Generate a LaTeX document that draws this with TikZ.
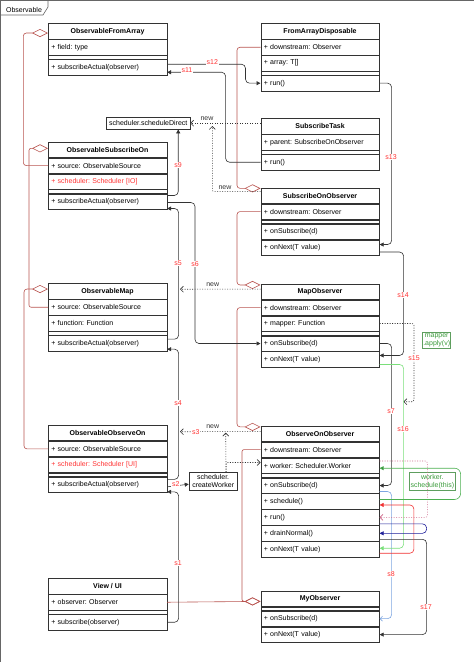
\documentclass[tikz,border=0pt]{standalone}
\usepackage{fontspec}
\setmainfont{Liberation Sans}
\usetikzlibrary{arrows.meta,calc}
\definecolor{boxc}{HTML}{333333}
\definecolor{aggc}{HTML}{B85450}
\definecolor{lblred}{HTML}{FF3333}
\definecolor{ltgreen}{HTML}{7ADF7A}
\definecolor{dkgreen}{HTML}{4CAF50}
\definecolor{gtext}{HTML}{3A9A3A}
\definecolor{gborder}{HTML}{5E9E5E}
\definecolor{ltblue}{HTML}{7EA6E0}
\definecolor{navyc}{HTML}{1F1F99}
\definecolor{loopred}{HTML}{F03030}
\definecolor{pinkc}{HTML}{CC6688}
\definecolor{framec}{HTML}{666666}
\tikzset{
  hdr/.style={draw=boxc, line width=0.6pt, anchor=north west, minimum width=118.5pt, minimum height=15.33pt, inner sep=0pt, font=\fontsize{7pt}{8pt}\selectfont\bfseries},
  row/.style={draw=boxc, line width=0.6pt, anchor=north west, minimum width=118.5pt, minimum height=15.33pt, inner xsep=3pt, inner ysep=0pt, text width=112.5pt, align=left},
  redrow/.style={row, text=lblred},
  sepbox/.style={draw=boxc, line width=0.6pt, anchor=north west, minimum width=118.5pt, minimum height=3.5pt, inner sep=0pt},
  notebox/.style={draw=boxc, line width=0.6pt, inner sep=0.6pt, align=center},
  gbox/.style={draw=gborder, line width=0.6pt, text=gtext, inner sep=0.6pt, align=center},
  flow/.style={draw=boxc, line width=0.6pt, rounded corners=4pt, -{Triangle[length=4pt,width=4pt]}},
  redflow/.style={flow, draw=loopred, -{Triangle[length=4pt,width=4pt,fill=loopred]}},
  navyflow/.style={flow, draw=navyc, -{Triangle[length=4pt,width=4pt,fill=navyc]}},
  ltgflow/.style={flow, draw=ltgreen, -{Triangle[length=4pt,width=4pt,fill=ltgreen]}},
  dkgflow/.style={flow, rounded corners=6pt, draw=dkgreen, -{Triangle[length=4pt,width=4pt,fill=dkgreen!80!black]}},
  blueflow/.style={flow, draw=ltblue, -{Straight Barb[length=2.5pt,width=5pt]}},
  newd/.style={draw=boxc, line width=0.6pt, dash pattern=on 1pt off 1.5pt, rounded corners=2pt, -{Straight Barb[length=3pt,width=6pt]}},
  pinkd/.style={newd, draw=pinkc},
  agg/.style={draw=aggc, line width=0.6pt, rounded corners=3pt, -{Diamond[open,length=16pt,width=8pt]}},
  aggs/.style={agg, rounded corners=2pt},
  lbl/.style={text=lblred, fill=white, inner sep=0.6pt},
  newl/.style={text=boxc, inner sep=0.5pt},
}
\begin{document}
\frenchspacing
\begin{tikzpicture}[x=1pt,y=-1pt, font=\fontsize{7pt}{8pt}\selectfont]
\useasboundingbox (0,0) rectangle (474,662);
% frame
\draw[framec, line width=0.8pt] (0,0) rectangle (474,662);
\draw[framec, line width=0.6pt] (0,15) -- (43,15) -- (48,7) -- (48,0);
\node (ftitle) at (24,9.5) {Observable};

% ---- left column ----
\node[hdr] (ofa) at (48,23.33) {ObservableFromArray};
\node[row] (ofa-a1) at (ofa.south west) {+ field: type};
\node[sepbox] (ofa-s) at (ofa-a1.south west) {};
\node[row] (ofa-m1) at (ofa-s.south west) {+ subscribeActual(observer)};

\node[hdr] (oso) at (48,141.67) {ObservableSubscribeOn};
\node[row] (oso-a1) at (oso.south west) {+ source: ObservableSource};
\node[redrow] (oso-a2) at (oso-a1.south west) {+ scheduler: Scheduler [IO]};
\node[sepbox] (oso-s) at (oso-a2.south west) {};
\node[row] (oso-m1) at (oso-s.south west) {+ subscribeActual(observer)};

\node[hdr] (om) at (48,283.33) {ObservableMap};
\node[row] (om-a1) at (om.south west) {+ source: ObservableSource};
\node[row] (om-a2) at (om-a1.south west) {+ function: Function};
\node[sepbox] (om-s) at (om-a2.south west) {};
\node[row] (om-m1) at (om-s.south west) {+ subscribeActual(observer)};

\node[hdr] (oob) at (48,425) {ObservableObserveOn};
\node[row] (oob-a1) at (oob.south west) {+ source: ObservableSource};
\node[redrow] (oob-a2) at (oob-a1.south west) {+ scheduler: Scheduler [UI]};
\node[sepbox] (oob-s) at (oob-a2.south west) {};
\node[row] (oob-m1) at (oob-s.south west) {+ subscribeActual(observer)};

\node[hdr] (ui) at (48,578.33) {View / UI};
\node[row] (ui-a1) at (ui.south west) {+ observer: Observer};
\node[sepbox] (ui-s) at (ui-a1.south west) {};
\node[row] (ui-m1) at (ui-s.south west) {+ subscribe(observer)};

% ---- right column ----
\node[hdr] (fad) at (260.5,23.33) {FromArrayDisposable};
\node[row] (fad-a1) at (fad.south west) {+ downstream: Observer};
\node[row] (fad-a2) at (fad-a1.south west) {+ array: T[]};
\node[sepbox] (fad-s) at (fad-a2.south west) {};
\node[row] (fad-m1) at (fad-s.south west) {+ run()};

\node[hdr] (st) at (260.5,118.33) {SubscribeTask};
\node[row] (st-a1) at (st.south west) {+ parent: SubscribeOnObserver};
\node[sepbox] (st-s) at (st-a1.south west) {};
\node[row] (st-m1) at (st-s.south west) {+ run()};

\node[hdr] (soo) at (260.5,187.67) {SubscribeOnObserver};
\node[row] (soo-a1) at (soo.south west) {+ downstream: Observer};
\node[sepbox] (soo-s) at (soo-a1.south west) {};
\node[row] (soo-m1) at (soo-s.south west) {+ onSubscribe(d)};
\node[row] (soo-m2) at (soo-m1.south west) {+ onNext(T value)};

\node[hdr] (mo) at (260.5,283.67) {MapObserver};
\node[row] (mo-a1) at (mo.south west) {+ downstream: Observer};
\node[row] (mo-a2) at (mo-a1.south west) {+ mapper: Function};
\node[sepbox] (mo-s) at (mo-a2.south west) {};
\node[row] (mo-m1) at (mo-s.south west) {+ onSubscribe(d)};
\node[row] (mo-m2) at (mo-m1.south west) {+ onNext(T value)};

\node[hdr] (ooo) at (260.5,425.67) {ObserveOnObserver};
\node[row] (ooo-a1) at (ooo.south west) {+ downstream: Observer};
\node[row] (ooo-a2) at (ooo-a1.south west) {+ worker: Scheduler.Worker};
\node[sepbox] (ooo-s) at (ooo-a2.south west) {};
\node[row] (ooo-m1) at (ooo-s.south west) {+ onSubscribe(d)};
\node[row] (ooo-m2) at (ooo-m1.south west) {+ schedule()};
\node[row] (ooo-m3) at (ooo-m2.south west) {+ run()};
\node[row] (ooo-m4) at (ooo-m3.south west) {+ drainNormal()};
\node[row] (ooo-m5) at (ooo-m4.south west) {+ onNext(T value)};

\node[hdr] (my) at (260.5,590.67) {MyObserver};
\node[sepbox] (my-s) at (my.south west) {};
\node[row] (my-m1) at (my-s.south west) {+ onSubscribe(d)};
\node[row] (my-m2) at (my-m1.south west) {+ onNext(T value)};

% ---- helper boxes ----
\node[notebox, minimum width=83.3pt, minimum height=11.7pt] (sd) at (148.3,123.2) {scheduler.scheduleDirect};
\node[notebox, minimum width=48.3pt, minimum height=17.7pt] (cw) at (213.2,481.2) {scheduler.\\createWorker};
\node[gbox, minimum width=26.7pt, minimum height=16.4pt] (ma) at (436.7,340.5) {mapper\\.apply(v)};
\node[gbox, minimum width=46.7pt, minimum height=17.7pt] (ws) at (432.3,481.2) {worker.\\schedule(this)};

% ---- aggregations ----
\draw[agg] (oso-a1.west) -| ($(ofa.north west)+(-24.7,9.7)$) -- ($(ofa.north west)+(0,9.7)$);
\draw[aggs] (om-a1.west) -| ($(oso.north west)+(-19,6.7)$) -- ($(oso.north west)+(0,6.7)$);
\draw[agg] (oob-a1.west) -| ($(om.north west)+(-24,5.7)$) -- ($(om.north west)+(0,5.7)$);
\draw[agg] (fad-a1.west) -| ($(soo.north west)+(-23.5,0.7)$) -- ($(soo.north west)+(0,0.7)$);
\draw[agg] (soo-a1.west) -| ($(mo.north west)+(-23.5,1.3)$) -- ($(mo.north west)+(0,1.3)$);
\draw[agg] (mo-a1.west) -| ($(ooo.north west)+(-23.5,1.2)$) -- ($(ooo.north west)+(0,1.2)$);
\draw[aggs] (ooo-a1.west) -| ($(my.north west)+(-18.5,10.7)$) -- ($(my.north west)+(0,10.7)$);
\draw[agg] (ui-a1.east) -- ($(my.north west)+(0,10.7)$);

% ---- "new" dotted ----
\coordinate (n1) at (212.3,126);
\coordinate (n2) at (180,289.2);
\coordinate (n3) at (180,431.7);
\coordinate (n4) at (225.7,432.7);
\coordinate (s15end) at (403.5,401.7);
\draw[newd] (st.west |- sd.east) -- (sd.east);
\draw[newd] ($(soo.north west)+(0,4)$) -| (n1);
\draw[newd] ($(mo.north west)+(0,5.5)$) -- (n2);
\draw[newd] ($(ooo.north west)+(0,6)$) -- (n3);
\draw[newd] ($(cw.north east)+(-11.6,0)$) -- (n4);
\draw[newd] ($(cw.north east)+(-11.6,0)$) |- ($(ooo-a2.west)+(0,-3)$);
\draw[newd] (mo-a2.east) -| ($(s15end)+(10.5,0)$) -- (s15end);

% ---- call flow ----
\draw[flow] ($(ofa-m1.east)+(0,-3)$) -| ($(fad-m1.west)+(-15,0)$) -- (fad-m1.west);
\draw[flow] (st-m1.west) -| ($(ofa-m1.east)+(58.5,5)$) -- ($(ofa-m1.east)+(0,5)$);
\draw[flow] (fad-m1.east) -| ($(soo-m2.east)+(12,-3)$) -- ($(soo-m2.east)+(0,-3)$);
\draw[flow] ($(oso-m1.east)+(0,-6)$) -| ($(sd.south east)+(-12,0)$);
\draw[flow] ($(oso-m1.east)+(0,1)$) -| ($(mo-m1.west)+(-65.5,0)$) -- (mo-m1.west);
\draw[flow] ($(om-m1.east)+(0,-4)$) -| ($(oso-m1.east)+(11.5,7)$) -- ($(oso-m1.east)+(0,7)$);
\draw[flow] ($(oob-m1.east)+(0,-5.5)$) -| ($(om-m1.east)+(11.5,6)$) -- ($(om-m1.east)+(0,6)$);
\draw[flow] (ui-m1.east) -| ($(oob-m1.east)+(11.5,7)$) -- ($(oob-m1.east)+(0,7)$);
\draw[flow] ($(oob-m1.east)+(0,2)$) -- ($(cw.west)+(0,3)$);
\draw[flow] (mo-m1.east) -| ($(ooo-m1.east)+(12,0)$) -- (ooo-m1.east);
\draw[blueflow] ($(ooo-m1.east)+(0,6)$) -| ($(my-m1.east)+(12,0)$) -- (my-m1.east);
\draw[flow] ($(soo-m2.east)+(0,4.5)$) -| ($(mo-m2.east)+(24,-4)$) -- ($(mo-m2.east)+(0,-4)$);
\draw[ltgflow] ($(mo-m2.east)+(0,5)$) -| ($(ooo-m5.east)+(24,-1)$) -- ($(ooo-m5.east)+(0,-1)$);
\draw[flow] ($(ooo-m4.east)+(0,6)$) -| ($(my-m2.east)+(47,0)$) -- (my-m2.east);
\draw[redflow] ($(ooo-m5.east)+(0,4)$) -| ($(ooo-m2.east)+(34.3,3.5)$) -- ($(ooo-m2.east)+(0,3.5)$);
\draw[navyflow] ($(ooo-m3.east)+(0,6.5)$) -| ($(ooo-m4.east)+(47,0)$) -- (ooo-m4.east);
\draw[pinkd] ($(ooo-a2.east)+(0,-4.5)$) -| ($(ooo-m3.east)+(47.7,0)$) -- (ooo-m3.east);
\draw[dkgflow] ($(ooo-m2.east)+(0,-2)$) -| ($(ooo-a2.east)+(81,2.7)$) -- ($(ooo-a2.east)+(0,2.7)$);

% ---- labels ----
\node[newl] (nw1) at (207,118.8) {new};
\node[newl] (nw2) at (225,187.3) {new};
\node[newl] (nw3) at (212.7,284.3) {new};
\node[newl] (nw4) at (212.7,426.7) {new};
\node[lbl] (l1) at (178,563) {s1};
\node[lbl] (l2) at (175.7,484.2) {s2};
\node[lbl] (l3) at (195.7,431.7) {s3};
\node[lbl] (l4) at (178,402.7) {s4};
\node[lbl] (l5) at (178,262.7) {s5};
\node[lbl] (l6) at (195,264) {s6};
\node[lbl] (l7) at (391,410.7) {s7};
\node[lbl] (l8) at (391,574.3) {s8};
\node[lbl] (l9) at (178,165) {s9};
\node[lbl] (l11) at (187,70.2) {s11};
\node[lbl] (l12) at (212.3,62.2) {s12};
\node[lbl] (l13) at (391,157.3) {s13};
\node[lbl] (l14) at (403,295.3) {s14};
\node[lbl] (l15) at (414,358.3) {s15};
\node[lbl] (l16) at (403,429.3) {s16};
\node[lbl] (l17) at (426,607.3) {s17};
\end{tikzpicture}
\end{document}
